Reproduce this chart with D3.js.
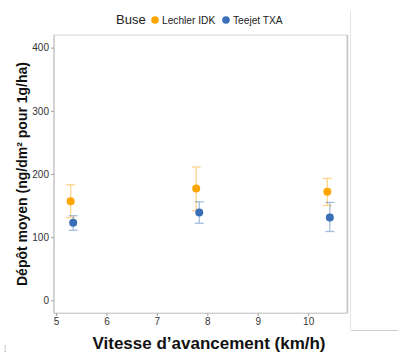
<!DOCTYPE html>
<html><head><meta charset="utf-8">
<script src="https://cdn.jsdelivr.net/npm/d3@7"></script>
<style>body{margin:0;background:#fff}svg{display:block}</style>
</head><body>
<svg id="c" width="398" height="353"></svg>
<script>
const seriesNames = ["Lechler IDK", "Teejet TXA"];
const seriesColors = ["#FFA500", "#3A6FB7"];
const speedsLechler = [5.29, 7.78, 10.38];
const meanLechler = [157, 177, 172];
const lowLechler = [131, 142, 150];
const highLechler = [183, 211, 193];
const speedsTeejet = [5.34, 7.84, 10.43];
const meanTeejet = [123, 139, 131];
const lowTeejet = [111, 122, 109];
const highTeejet = [134, 156, 155];
const xTicks = [5, 6, 7, 8, 9, 10];
const yTicks = [0, 100, 200, 300, 400];

const svg = d3.select("#c");
const L = 54, R = 347, T = 35, B = 313;
const x = d3.scaleLinear().domain([4.96, 10.77]).range([L, R]);
const y = d3.scaleLinear().domain([-20, 420]).range([B, T]);

// outer frame lines on the right
svg.append("line").attr("x1",350.5).attr("x2",350.5).attr("y1",11).attr("y2",330).attr("stroke","#e4e4e4");
svg.append("line").attr("x1",351).attr("x2",398).attr("y1",330.5).attr("y2",330.5).attr("stroke","#cfcfcf");

// panel
svg.append("rect").attr("x",L).attr("y",T).attr("width",R-L).attr("height",B-T)
  .attr("fill","#fff").attr("stroke","#dcdcdc").attr("stroke-width",1.2);
svg.append("line").attr("x1",R+0.5).attr("x2",R+0.5).attr("y1",T).attr("y2",B).attr("stroke","#c8c8c8").attr("stroke-width",1.5);
svg.append("line").attr("x1",L).attr("x2",R).attr("y1",B+0.5).attr("y2",B+0.5).attr("stroke","#d0d0d0").attr("stroke-width",1.2);
svg.append("line").attr("x1",L).attr("x2",L).attr("y1",T).attr("y2",B).attr("stroke","#bdbdbd").attr("stroke-width",1);

// axes
const yAx = svg.append("g").attr("transform",`translate(${L},0)`)
  .call(d3.axisLeft(y).tickValues(yTicks).tickFormat(d3.format("d")).tickSize(3).tickPadding(2));
const xAx = svg.append("g").attr("transform",`translate(0,${B})`)
  .call(d3.axisBottom(x).tickValues(xTicks).tickFormat(d3.format("d")).tickSize(3).tickPadding(2));
[yAx,xAx].forEach(a=>{
  a.select(".domain").remove();
  a.selectAll(".tick line").attr("stroke","#a0a0a0");
  a.selectAll(".tick text").attr("fill","#333").style("font-family","Liberation Sans, Arial, sans-serif").style("font-size","10px");
});

// series
const series = [
  {xs: speedsLechler, m: meanLechler, lo: lowLechler, hi: highLechler, c: seriesColors[0]},
  {xs: speedsTeejet, m: meanTeejet, lo: lowTeejet, hi: highTeejet, c: seriesColors[1]}
];
series.forEach(s=>{
  const g = svg.append("g");
  const d = s.xs.map((v,i)=>({x:v, m:s.m[i], lo:s.lo[i], hi:s.hi[i]}));
  const eb = g.selectAll(".eb").data(d).enter().append("g").attr("opacity",0.45)
    .attr("stroke",s.c).attr("stroke-width",1.3);
  eb.append("line").attr("x1",d=>x(d.x)).attr("x2",d=>x(d.x)).attr("y1",d=>y(d.lo)).attr("y2",d=>y(d.hi));
  eb.append("line").attr("x1",d=>x(d.x)-4.5).attr("x2",d=>x(d.x)+4.5).attr("y1",d=>y(d.lo)).attr("y2",d=>y(d.lo));
  eb.append("line").attr("x1",d=>x(d.x)-4.5).attr("x2",d=>x(d.x)+4.5).attr("y1",d=>y(d.hi)).attr("y2",d=>y(d.hi));
  g.selectAll("circle").data(d).enter().append("circle")
    .attr("cx",d=>x(d.x)).attr("cy",d=>y(d.m)).attr("r",4).attr("fill",s.c);
});

// legend
const lg = svg.append("g").style("font-family","Liberation Sans, Arial, sans-serif");
lg.append("text").attr("x",116).attr("y",24).attr("font-size","13px").attr("fill","#222").text("Buse");
const lx = [155, 226];
seriesNames.forEach((n,i)=>{
  lg.append("circle").attr("cx",lx[i]).attr("cy",20).attr("r",3.8).attr("fill",seriesColors[i]);
  lg.append("text").attr("x",lx[i]+7).attr("y",24).attr("font-size","10.2px").attr("fill","#222").text(n);
});

// axis titles
svg.append("text").attr("x",209).attr("y",349).attr("text-anchor","middle")
  .style("font-family","Liberation Sans, Arial, sans-serif").style("font-weight","bold").style("font-size","17px")
  .attr("fill","#111").text("Vitesse d\u2019avancement (km/h)");
svg.append("text").attr("transform","translate(27,174) rotate(-90)").attr("text-anchor","middle")
  .style("font-family","Liberation Sans, Arial, sans-serif").style("font-weight","bold").style("font-size","14px")
  .attr("fill","#111").text("Dépôt moyen (ng/dm\u00B2 pour 1g/ha)");
svg.append("text").attr("x",4).attr("y",350).attr("font-size","8px").attr("fill","#bbb")
  .style("font-family","Liberation Sans, Arial, sans-serif").text("]");
</script>
</body></html>
